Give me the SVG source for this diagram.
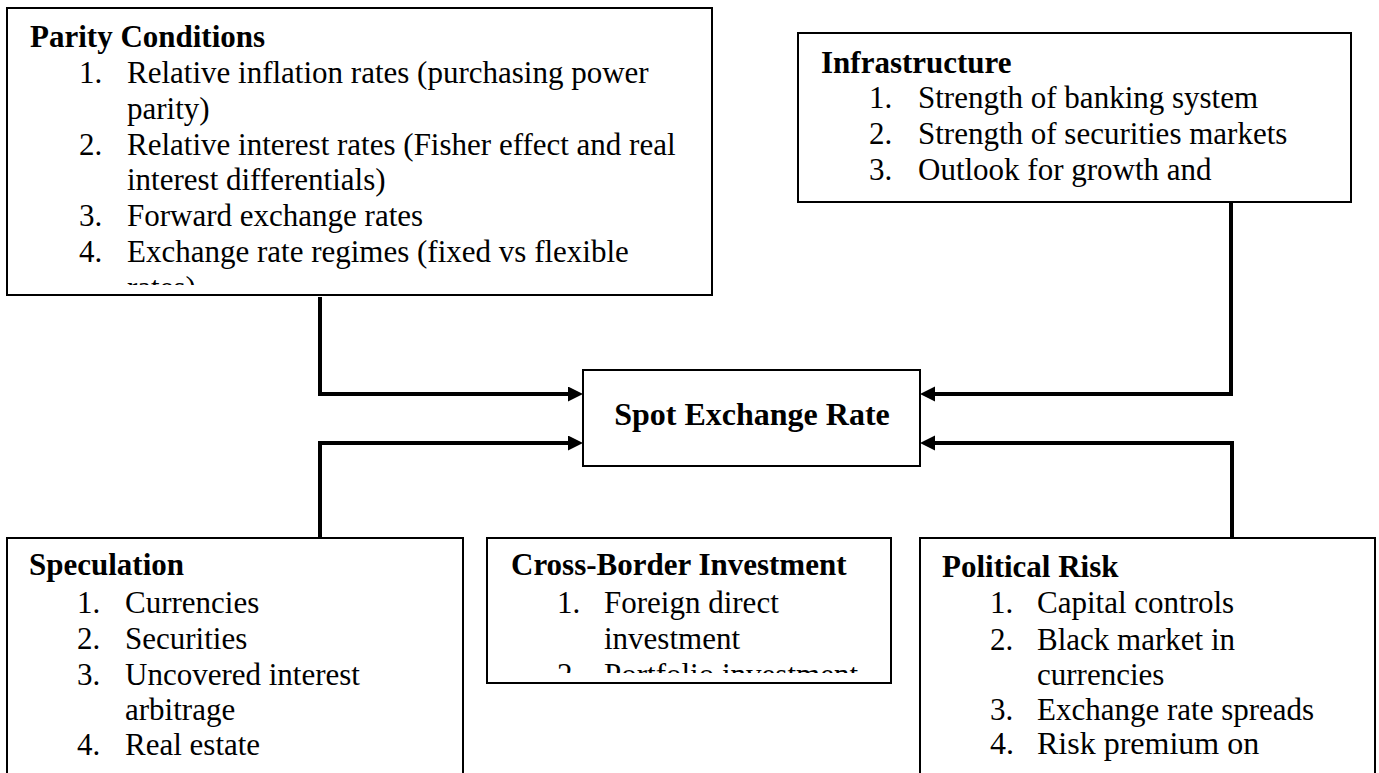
<svg xmlns="http://www.w3.org/2000/svg" width="1379" height="773" viewBox="0 0 1379 773">
<style>
.box{fill:#fff;stroke:#000;stroke-width:2}
.t{font-family:"Liberation Serif","Times New Roman",serif;font-size:31px;fill:#000}
.h{font-family:"Liberation Serif","Times New Roman",serif;font-size:31px;font-weight:bold;fill:#000}
.conn{fill:none;stroke:#000;stroke-width:4;stroke-linejoin:miter}
</style>
<defs>
<marker id="ah" markerWidth="16" markerHeight="16" refX="0" refY="7.5" orient="auto" markerUnits="userSpaceOnUse">
<path d="M0,0 L15,7.5 L0,15 z" fill="#000"/>
</marker>
<clipPath id="clipParity"><rect x="7" y="8" width="705" height="277"/></clipPath>
<clipPath id="clipCross"><rect x="487" y="538" width="404" height="135"/></clipPath>
</defs>

<g id="connectors">
<path class="conn" d="M320,297 V394 H568" marker-end="url(#ah)"/>
<path class="conn" d="M1231,202 V394 H935" marker-end="url(#ah)"/>
<path class="conn" d="M320,538 V443 H568" marker-end="url(#ah)"/>
<path class="conn" d="M1232,538 V443 H935" marker-end="url(#ah)"/>
</g>

<g id="parity">
<rect class="box" x="7" y="8" width="705" height="287"/>
<g clip-path="url(#clipParity)">
<text class="h" x="30" y="47">Parity Conditions</text>
<text class="t" x="79" y="83">1.</text>
<text class="t" x="127" y="83">Relative inflation rates (purchasing power</text>
<text class="t" x="127" y="119">parity)</text>
<text class="t" x="79" y="155">2.</text>
<text class="t" x="127" y="155">Relative interest rates (Fisher effect and real</text>
<text class="t" x="127" y="190">interest differentials)</text>
<text class="t" x="79" y="226">3.</text>
<text class="t" x="127" y="226">Forward exchange rates</text>
<text class="t" x="79" y="262">4.</text>
<text class="t" x="127" y="262">Exchange rate regimes (fixed vs flexible</text>
<text class="t" x="127" y="298">rates)</text>
</g>
</g>

<g id="infrastructure">
<rect class="box" x="798" y="33" width="553" height="169"/>
<text class="h" x="821" y="73">Infrastructure</text>
<text class="t" x="869" y="108">1.</text>
<text class="t" x="918" y="108">Strength of banking system</text>
<text class="t" x="869" y="144">2.</text>
<text class="t" x="918" y="144">Strength of securities markets</text>
<text class="t" x="869" y="180">3.</text>
<text class="t" x="918" y="180">Outlook for growth and</text>
</g>

<g id="spot">
<rect class="box" x="583" y="370" width="337" height="96"/>
<text class="h" x="752" y="425" text-anchor="middle" style="font-size:32px">Spot Exchange Rate</text>
</g>

<g id="speculation">
<rect class="box" x="7" y="538" width="456" height="260"/>
<text class="h" x="29" y="575">Speculation</text>
<text class="t" x="77" y="613">1.</text>
<text class="t" x="125" y="613">Currencies</text>
<text class="t" x="77" y="649">2.</text>
<text class="t" x="125" y="649">Securities</text>
<text class="t" x="77" y="685">3.</text>
<text class="t" x="125" y="685">Uncovered interest</text>
<text class="t" x="125" y="720">arbitrage</text>
<text class="t" x="77" y="755">4.</text>
<text class="t" x="125" y="755">Real estate</text>
</g>

<g id="crossborder">
<rect class="box" x="487" y="538" width="404" height="145"/>
<g clip-path="url(#clipCross)">
<text class="h" x="511" y="575">Cross-Border Investment</text>
<text class="t" x="557" y="613">1.</text>
<text class="t" x="604" y="613">Foreign direct</text>
<text class="t" x="604" y="649">investment</text>
<text class="t" x="557" y="685">2.</text>
<text class="t" x="604" y="685">Portfolio investment</text>
</g>
</g>

<g id="political">
<rect class="box" x="920" y="538" width="455" height="260"/>
<text class="h" x="942" y="577">Political Risk</text>
<text class="t" x="990" y="613">1.</text>
<text class="t" x="1037" y="613">Capital controls</text>
<text class="t" x="990" y="650">2.</text>
<text class="t" x="1037" y="650">Black market in</text>
<text class="t" x="1037" y="685">currencies</text>
<text class="t" x="990" y="720">3.</text>
<text class="t" x="1037" y="720">Exchange rate spreads</text>
<text class="t" x="990" y="754" style="font-size:32px">4.</text>
<text class="t" x="1037" y="754" style="font-size:32px">Risk premium on</text>
</g>
</svg>
